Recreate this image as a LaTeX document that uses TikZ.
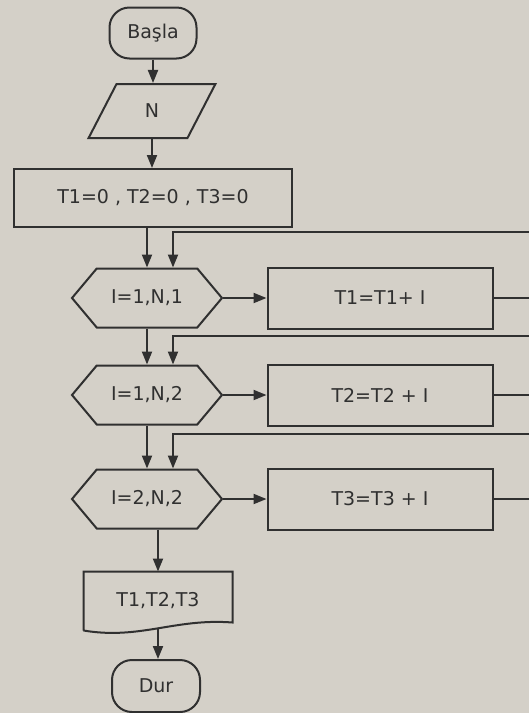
\documentclass[tikz,border=0pt]{standalone}
\usepackage{fontspec}
\setmainfont{DejaVu Sans}
\usepackage{tikz}
\usetikzlibrary{calc}
\usetikzlibrary{arrows.meta}
\usetikzlibrary{shapes.geometric, shapes.symbols}

\definecolor{paper}{RGB}{212,208,200}
\definecolor{ink}{RGB}{48,48,48}

\tikzset{
  chart/.style={draw=ink, line width=2pt, text=ink, inner sep=0pt,
    font=\fontsize{19}{22}\selectfont},
  terminal/.style={chart, rectangle, rounded corners=20pt, minimum width=87pt, minimum height=51pt},
  iobox/.style={chart, trapezium, trapezium left angle=68, trapezium right angle=112,
    trapezium stretches=true, minimum width=127pt, minimum height=54pt},
  procbox/.style={chart, rectangle},
  repeatbox/.style={chart, signal, signal to=east and west, signal pointer angle=100,
    minimum width=150pt, minimum height=59pt},
  line/.style={draw=ink, line width=2pt},
  arr/.style={line, -{Triangle[length=13pt,width=10pt]}}
}

\begin{document}
\begin{tikzpicture}[x=1pt, y=-1pt]
    \fill[paper] (0,0) rectangle (529,713);
    \useasboundingbox (0,0) rectangle (529,713);
    \clip (0,0) rectangle (529,713);

    \node[terminal] (start) at (153,33) {Başla};
    \node[iobox] (inp) at (152,111) {N};
    \node[procbox, minimum width=278pt, minimum height=58pt] (init) at (153,198) {T1=0 , T2=0 , T3=0};
    \foreach \n/\y/\r/\cond/\body in {1/298/36/{I=1,N,1}/{T1=T1+ I}, 2/395/29/{I=1,N,2}/{T2=T2 + I}, 3/499/35/{I=2,N,2}/{T3=T3 + I}} {
        \node[repeatbox] (loop\n) at (147,\y) {\cond};
        \node[procbox, minimum width=225pt, minimum height=61pt] (body\n) at (380,\y) {\body};
        \draw[arr] (loop\n.east) -- (body\n.west);
        \draw[arr] (body\n.east) -- ++(40,0) |- ($(loop\n.north)+(26,-\r)$) -- ($(loop\n.north)+(26,0)$);
    }
    \node[chart, draw=none, minimum width=147pt, minimum height=57pt] (out) at (158,601) {T1,T2,T3};
    \node[terminal, minimum width=88pt, minimum height=52pt] (stop) at (156,686) {Dur};

    \draw[line] (out.south west) -- (out.north west) -- (out.north east) -- ($(out.south east)+(0,-8)$)
        .. controls (175,618) and (140,640) .. (out.south west);
    \coordinate (outw) at (158,628);

    \draw[arr] (start.south) -- (start.south |- inp.north);
    \draw[arr] (inp.south) -- (inp.south |- init.north);
    \draw[arr] (loop1 |- init.south) -- (loop1.north);
    \draw[arr] (loop1.south) -- (loop2.north);
    \draw[arr] (loop2.south) -- (loop3.north);
    \draw[arr] (out.north |- loop3.south) -- (out.north);
    \draw[arr] (outw) -- (outw |- stop.north);
\end{tikzpicture}
\end{document}
